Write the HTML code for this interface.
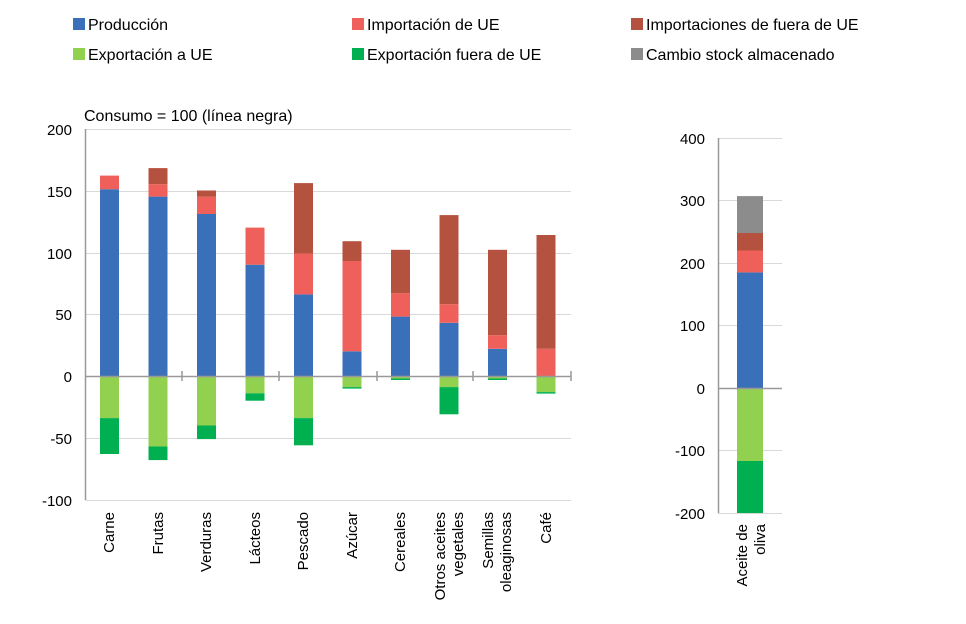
<!DOCTYPE html><html><head><meta charset="utf-8"><style>body{margin:0;background:#fff}svg{display:block;font-family:"Liberation Sans",Arial,sans-serif}</style></head><body>
<svg width="966" height="624" xmlns="http://www.w3.org/2000/svg">
<g font-size="16" fill="#000">
<rect x="73" y="18" width="12" height="12" fill="#3a70b9"/><text x="88" y="30">Producción</text>
<rect x="352" y="18" width="12" height="12" fill="#f0605a"/><text x="367" y="30">Importación de  UE</text>
<rect x="631" y="18" width="12" height="12" fill="#b5523f"/><text x="646" y="30">Importaciones de fuera de UE</text>
<rect x="73" y="48" width="12" height="12" fill="#92d050"/><text x="88" y="60">Exportación a  UE</text>
<rect x="352" y="48" width="12" height="12" fill="#00b050"/><text x="367" y="60">Exportación fuera de UE</text>
<rect x="631" y="48" width="12" height="12" fill="#8c8c8c"/><text x="646" y="60">Cambio stock almacenado</text>
<text x="84" y="121">Consumo = 100 (línea negra)</text>
</g>
<g stroke="#d9d9d9" stroke-width="1">
<line x1="85" y1="129.5" x2="571" y2="129.5"/><line x1="85" y1="191.5" x2="571" y2="191.5"/><line x1="85" y1="253.5" x2="571" y2="253.5"/><line x1="85" y1="314.5" x2="571" y2="314.5"/><line x1="85" y1="438.5" x2="571" y2="438.5"/><line x1="85" y1="500.5" x2="571" y2="500.5"/>
<line x1="718" y1="138.5" x2="782" y2="138.5"/><line x1="718" y1="200.5" x2="782" y2="200.5"/><line x1="718" y1="263.5" x2="782" y2="263.5"/><line x1="718" y1="325.5" x2="782" y2="325.5"/><line x1="718" y1="450.5" x2="782" y2="450.5"/><line x1="718" y1="513.5" x2="782" y2="513.5"/>
</g>
<g font-size="15" text-anchor="end" fill="#000">
<text x="72" y="135">200</text><text x="72" y="197">150</text><text x="72" y="259">100</text><text x="72" y="320">50</text><text x="72" y="382">0</text><text x="72" y="444">-50</text><text x="72" y="506">-100</text>
<text x="705" y="144">400</text><text x="705" y="206">300</text><text x="705" y="269">200</text><text x="705" y="331">100</text><text x="705" y="394">0</text><text x="705" y="456">-100</text><text x="705" y="519">-200</text>
</g>
<g>
<rect x="100" y="189.2" width="19" height="186.8" fill="#3a70b9"/><rect x="100" y="175.6" width="19" height="13.6" fill="#f0605a"/>
<rect x="100" y="376" width="19" height="42.1" fill="#92d050"/><rect x="100" y="418.1" width="19" height="35.9" fill="#00b050"/>
<rect x="148.5" y="196.6" width="19" height="179.4" fill="#3a70b9"/><rect x="148.5" y="184.2" width="19" height="12.4" fill="#f0605a"/><rect x="148.5" y="168.1" width="19" height="16.1" fill="#b5523f"/>
<rect x="148.5" y="376" width="19" height="70.5" fill="#92d050"/><rect x="148.5" y="446.5" width="19" height="13.6" fill="#00b050"/>
<rect x="197" y="214" width="19" height="162" fill="#3a70b9"/><rect x="197" y="196.7" width="19" height="17.3" fill="#f0605a"/><rect x="197" y="190.5" width="19" height="6.2" fill="#b5523f"/>
<rect x="197" y="376" width="19" height="49.5" fill="#92d050"/><rect x="197" y="425.5" width="19" height="13.6" fill="#00b050"/>
<rect x="245.5" y="264.7" width="19" height="111.3" fill="#3a70b9"/><rect x="245.5" y="227.6" width="19" height="37.1" fill="#f0605a"/>
<rect x="245.5" y="376" width="19" height="17.3" fill="#92d050"/><rect x="245.5" y="393.3" width="19" height="7.4" fill="#00b050"/>
<rect x="294" y="294.4" width="19" height="81.6" fill="#3a70b9"/><rect x="294" y="253.6" width="19" height="40.8" fill="#f0605a"/><rect x="294" y="183.1" width="19" height="70.5" fill="#b5523f"/>
<rect x="294" y="376" width="19" height="42.1" fill="#92d050"/><rect x="294" y="418.1" width="19" height="27.2" fill="#00b050"/>
<rect x="342.5" y="351.3" width="19" height="24.7" fill="#3a70b9"/><rect x="342.5" y="261" width="19" height="90.3" fill="#f0605a"/><rect x="342.5" y="241.2" width="19" height="19.8" fill="#b5523f"/>
<rect x="342.5" y="376" width="19" height="11.1" fill="#92d050"/><rect x="342.5" y="387.1" width="19" height="1.5" fill="#00b050"/>
<rect x="391" y="316.6" width="19" height="59.4" fill="#3a70b9"/><rect x="391" y="293.1" width="19" height="23.5" fill="#f0605a"/><rect x="391" y="249.8" width="19" height="43.3" fill="#b5523f"/>
<rect x="391" y="376" width="19" height="2.5" fill="#92d050"/><rect x="391" y="378.5" width="19" height="1.5" fill="#00b050"/>
<rect x="439.5" y="322.8" width="19" height="53.2" fill="#3a70b9"/><rect x="439.5" y="304.2" width="19" height="18.6" fill="#f0605a"/><rect x="439.5" y="215.1" width="19" height="89.1" fill="#b5523f"/>
<rect x="439.5" y="376" width="19" height="11.1" fill="#92d050"/><rect x="439.5" y="387.1" width="19" height="27.2" fill="#00b050"/>
<rect x="488" y="348.8" width="19" height="27.2" fill="#3a70b9"/><rect x="488" y="335.2" width="19" height="13.6" fill="#f0605a"/><rect x="488" y="249.8" width="19" height="85.4" fill="#b5523f"/>
<rect x="488" y="376" width="19" height="2.5" fill="#92d050"/><rect x="488" y="378.5" width="19" height="1.5" fill="#00b050"/>
<rect x="536.5" y="348.8" width="19" height="27.2" fill="#f0605a"/><rect x="536.5" y="235" width="19" height="113.8" fill="#b5523f"/>
<rect x="536.5" y="376" width="19" height="16.1" fill="#92d050"/><rect x="536.5" y="392.1" width="19" height="1.5" fill="#00b050"/>
<rect x="737" y="272.4" width="26" height="115.6" fill="#3a70b9"/><rect x="737" y="250.5" width="26" height="21.9" fill="#f0605a"/><rect x="737" y="233" width="26" height="17.5" fill="#b5523f"/><rect x="737" y="196.1" width="26" height="36.9" fill="#8c8c8c"/>
<rect x="737" y="388" width="26" height="73" fill="#92d050"/><rect x="737" y="461" width="26" height="52" fill="#00b050"/>
</g>
<g stroke="#999" stroke-width="1.5">
<line x1="85.5" y1="129" x2="85.5" y2="500"/><line x1="85" y1="376.5" x2="571" y2="376.5"/>
<line x1="182" y1="371" x2="182" y2="381"/><line x1="279" y1="371" x2="279" y2="381"/><line x1="377" y1="371" x2="377" y2="381"/><line x1="473" y1="371" x2="473" y2="381"/><line x1="571" y1="371" x2="571" y2="381"/>
<line x1="718.5" y1="138" x2="718.5" y2="513"/><line x1="718" y1="388.5" x2="782" y2="388.5"/>
</g>
<g font-size="15" text-anchor="end" fill="#000">
<text transform="translate(114,512) rotate(-90)">Carne</text>
<text transform="translate(163,512) rotate(-90)">Frutas</text>
<text transform="translate(211,512) rotate(-90)">Verduras</text>
<text transform="translate(260,512) rotate(-90)">Lácteos</text>
<text transform="translate(308,512) rotate(-90)">Pescado</text>
<text transform="translate(357,512) rotate(-90)">Azúcar</text>
<text transform="translate(405,512) rotate(-90)">Cereales</text>
<text transform="translate(445,512) rotate(-90)">Otros aceites</text>
<text transform="translate(463,512) rotate(-90)">vegetales</text>
<text transform="translate(493,512) rotate(-90)">Semillas</text>
<text transform="translate(511,512) rotate(-90)">oleaginosas</text>
<text transform="translate(551,512) rotate(-90)">Café</text>
<text transform="translate(747,524) rotate(-90)">Aceite de</text>
<text transform="translate(765,524) rotate(-90)">oliva</text>
</g>
</svg></body></html>
